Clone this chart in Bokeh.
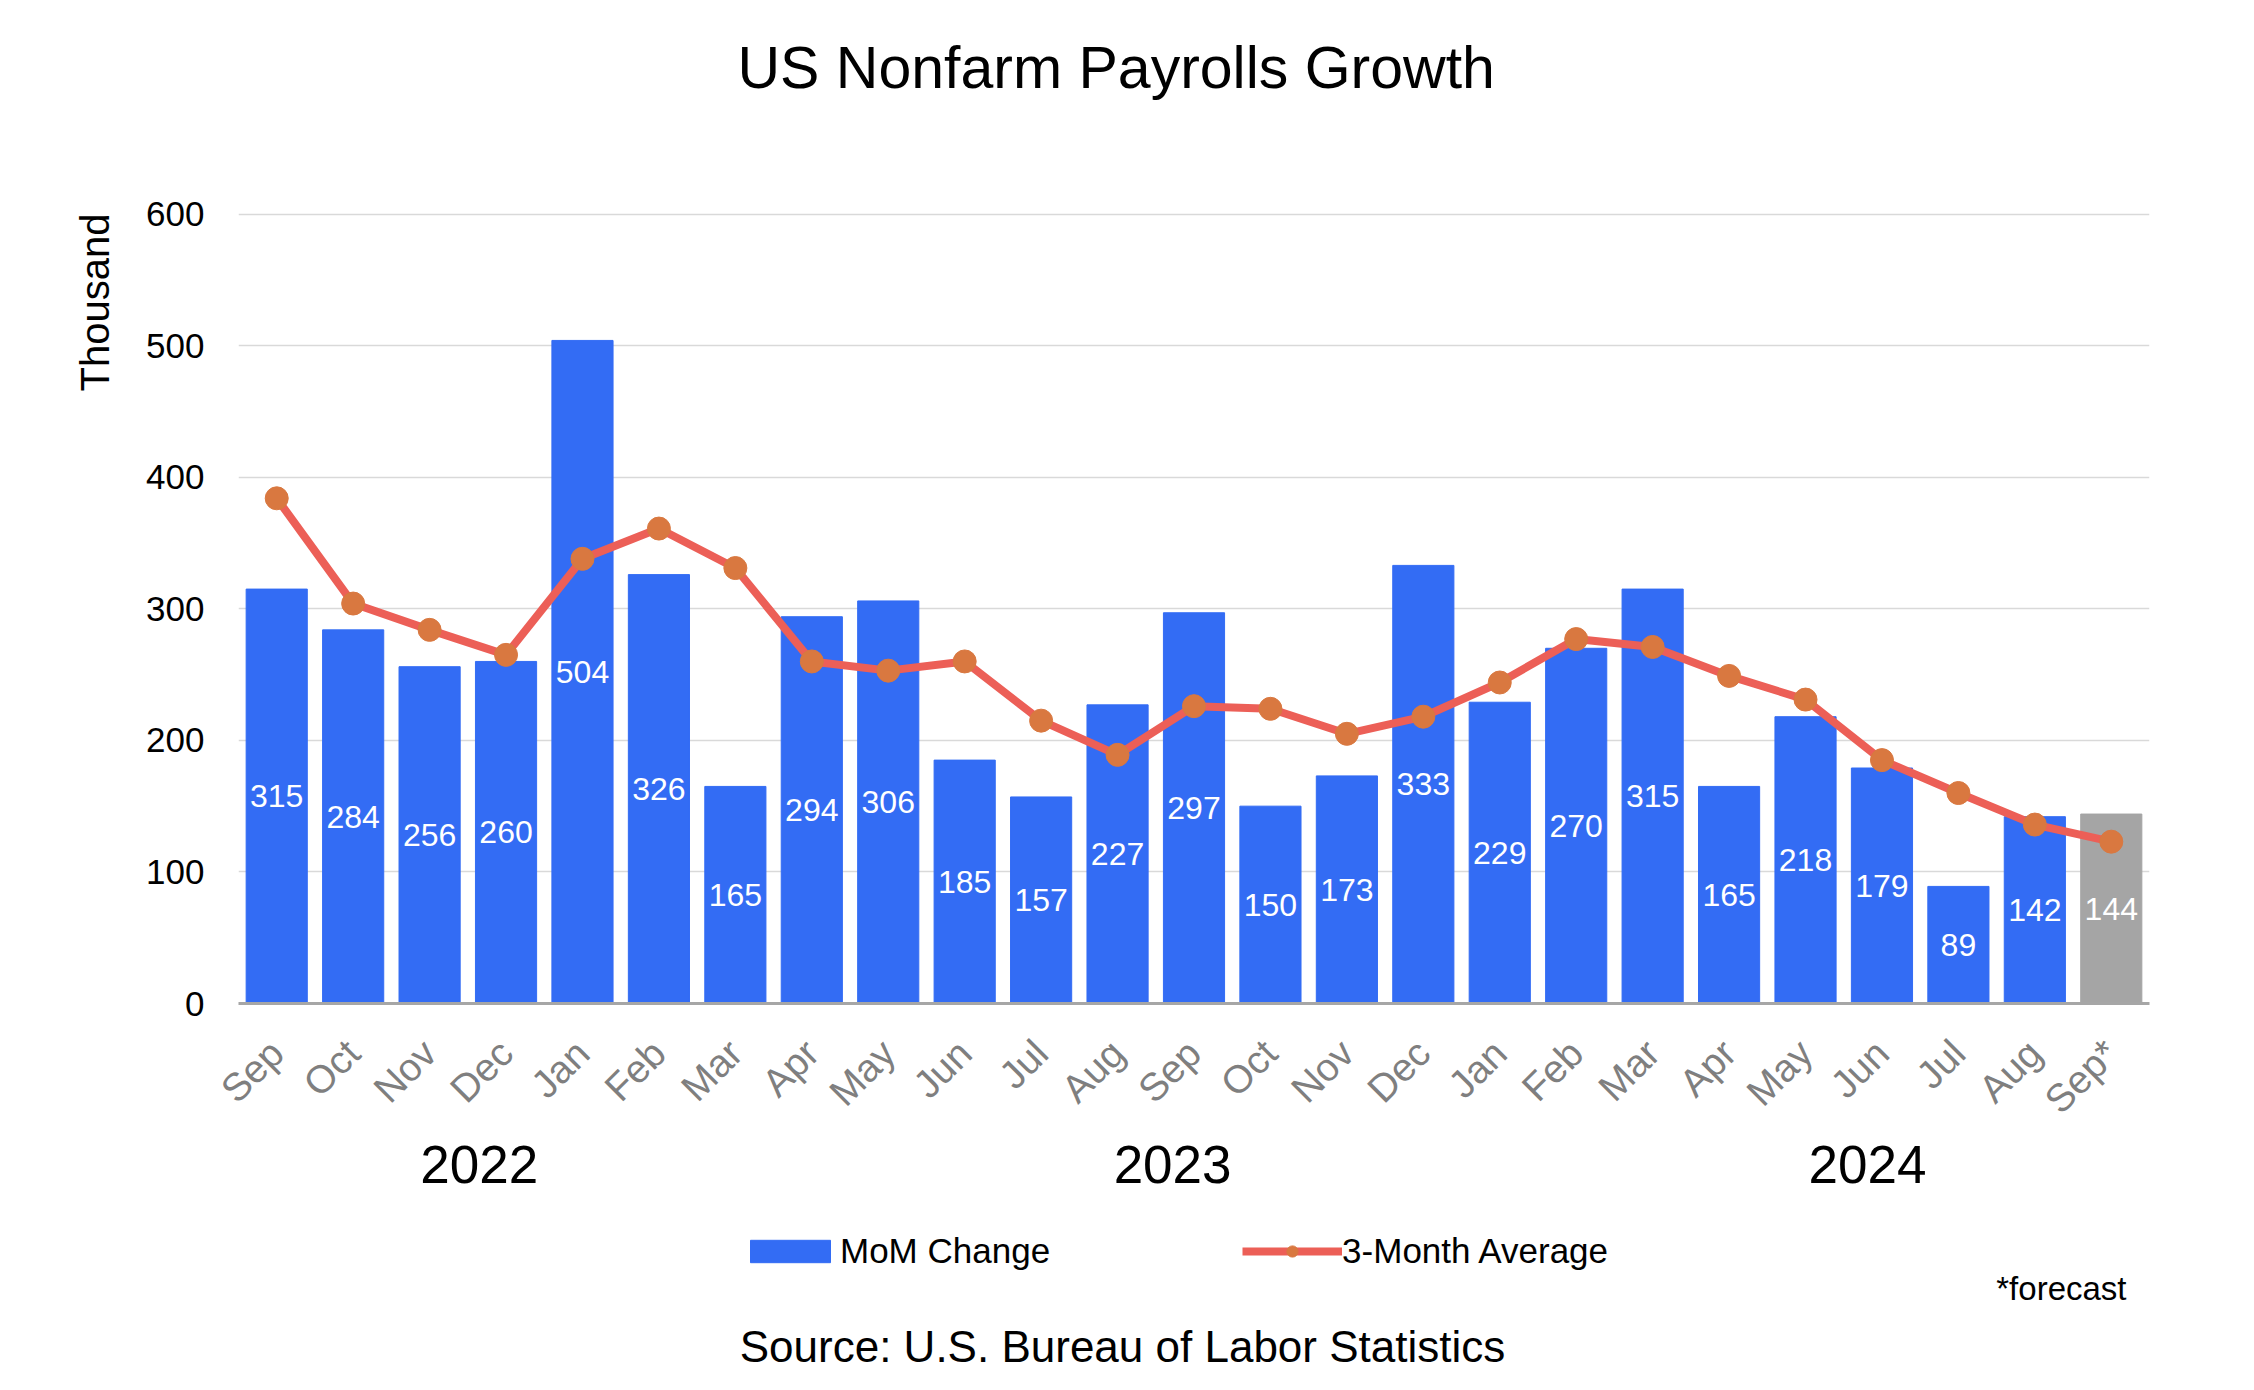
from bokeh.plotting import figure
from bokeh.layouts import column
from bokeh.models import (ColumnDataSource, Range1d, FixedTicker, LinearAxis,
                          Legend, LegendItem, Title, Label)
from bokeh.core.properties import value
from bokeh.embed import file_html
from bokeh.resources import INLINE
from math import pi

# data
months = ["Sep", "Oct", "Nov", "Dec", "Jan", "Feb", "Mar", "Apr", "May", "Jun",
          "Jul", "Aug", "Sep", "Oct", "Nov", "Dec", "Jan", "Feb", "Mar", "Apr",
          "May", "Jun", "Jul", "Aug", "Sep*"]
mom_change = [315, 284, 256, 260, 504, 326, 165, 294, 306, 185, 157, 227, 297,
              150, 173, 333, 229, 270, 315, 165, 218, 179, 89, 142, 144]
avg_3m = [384, 304, 284, 265, 338, 361, 331, 260, 253, 260, 215, 189, 226,
          224, 205, 218, 244, 277, 271, 249, 231, 185, 160, 136, 123]
years = ["2022", "2023", "2024"]
y_ticks = [0, 100, 200, 300, 400, 500, 600]

FONT = "Liberation Sans"
BLUE = "#336cf4"
GRAY = "#a5a5a5"
LINE_RED = "#ec5f57"
DOT_ORANGE = "#d97840"
W = 2238

xs = list(range(1, len(months) + 1))
colors = [GRAY if m.endswith("*") else BLUE for m in months]

bar_src = ColumnDataSource(data={
    "x": xs,
    "top": mom_change,
    "mid": [v / 2 for v in mom_change],
    "label": [str(v) for v in mom_change],
    "color": colors,
})
avg_src = ColumnDataSource(data={"x": xs, "y": avg_3m})

# ---- main chart ----
p = figure(
    width=W, height=1204,
    x_range=Range1d(0.5, len(months) + 0.5),
    y_range=Range1d(0, 602),
    output_backend="svg", toolbar_location=None, tools="",
    min_border_left=238, min_border_right=89,
    min_border_top=211, min_border_bottom=201,
)
p.outline_line_color = None

p.vbar(x="x", top="top", width=0.8, color="color", source=bar_src)
p.text(x="x", y="mid", text="label", source=bar_src, text_color="white",
       text_font=value(FONT), text_font_size="32px",
       text_align="center", text_baseline="middle")
p.line(x="x", y="y", source=avg_src, color=LINE_RED, line_width=8)
p.scatter(x="x", y="y", source=avg_src, size=23, color=DOT_ORANGE)

# title: a blank spacer title sits between the frame and the real title
p.add_layout(Title(text=" ", text_font_size="10px", standoff=98), "above")
p.add_layout(Title(text="US Nonfarm Payrolls Growth", align="left", offset=499,
                   standoff=0, text_font=FONT, text_font_size="59px",
                   text_font_style="normal", text_color="black"), "above")

p.xgrid.grid_line_color = None
p.ygrid.grid_line_color = "#d9d9d9"
p.ygrid.grid_line_width = 1.5

p.xaxis.ticker = FixedTicker(ticks=xs)
p.xaxis.major_label_overrides = {x: m for x, m in zip(xs, months)}
p.xaxis.major_label_orientation = pi / 4
p.xaxis.major_label_text_font = FONT
p.xaxis.major_label_text_font_size = "39px"
p.xaxis.major_label_text_color = "#7f7f7f"
p.xaxis.major_label_standoff = 37
p.xaxis.axis_line_color = "#a6a6a6"
p.xaxis.axis_line_width = 3
p.xaxis.major_tick_line_color = None
p.xaxis.minor_tick_line_color = None

# year row under the month labels
year_axis = LinearAxis(
    ticker=FixedTicker(ticks=[3.65, 12.72, 21.81]),
    major_label_overrides={3.65: years[0], 12.72: years[1], 21.81: years[2]},
    axis_line_color=None, major_tick_line_color=None,
    minor_tick_line_color=None, major_tick_out=0, major_tick_in=0,
    major_label_standoff=6, major_label_text_font=FONT,
    major_label_text_font_size="53px", major_label_text_color="black",
)
p.add_layout(year_axis, "below")

p.yaxis.ticker = FixedTicker(ticks=y_ticks)
p.yaxis.axis_line_color = None
p.yaxis.major_tick_line_color = None
p.yaxis.minor_tick_line_color = None
p.yaxis.major_label_text_font = FONT
p.yaxis.major_label_text_font_size = "35px"
p.yaxis.major_label_text_color = "black"
p.yaxis.major_label_standoff = 28

# y axis name, aligned with the top of the frame
p.add_layout(Title(text="Thousand", align="right", offset=2, standoff=54,
                   text_font=FONT, text_font_size="40px",
                   text_font_style="normal", text_color="black"), "left")

# ---- footer: legend, note and source ----
# (the column aligns this frame with the chart frame, so x is from x=238)
foot = figure(
    width=W, height=170, x_range=Range1d(0, 1), y_range=Range1d(0, 1),
    output_backend="svg", toolbar_location=None, tools="",
    x_axis_type=None, y_axis_type=None, min_border=0,
)
foot.outline_line_color = None
foot.grid.grid_line_color = None

# legend keys, same styling as the chart marks (not drawn themselves)
key_bar = foot.vbar(x="x", top="top", width=0.8, color=BLUE, source=bar_src,
                    visible=False)
key_line = foot.line(x="x", y="y", source=avg_src, color=LINE_RED,
                     line_width=8, visible=False)
key_dots = foot.scatter(x="x", y="y", source=avg_src, size=23,
                        color=DOT_ORANGE, visible=False)

legend = Legend(
    items=[LegendItem(label="MoM Change", renderers=[key_bar]),
           LegendItem(label="3-Month Average", renderers=[key_line, key_dots])],
    orientation="horizontal", location=(502, 103),
    glyph_width=100, glyph_height=28, label_standoff=0, spacing=192,
    label_text_font=FONT, label_text_font_size="35px",
    label_text_color="black", padding=0, margin=0,
    border_line_color=None, background_fill_alpha=0,
    inactive_fill_alpha=0,
)
foot.add_layout(legend, "center")

foot.add_layout(Label(x=1888, y=86, x_units="screen", y_units="screen",
                      text="*forecast", text_font=FONT, text_font_size="33px",
                      text_align="right", text_baseline="middle",
                      text_color="black"))
foot.add_layout(Label(x=884, y=28, x_units="screen", y_units="screen",
                      text="Source: U.S. Bureau of Labor Statistics",
                      text_font=FONT, text_font_size="44px",
                      text_align="center", text_baseline="middle",
                      text_color="black"))

open("out.html", "w").write(file_html(column(p, foot, spacing=0), INLINE))
